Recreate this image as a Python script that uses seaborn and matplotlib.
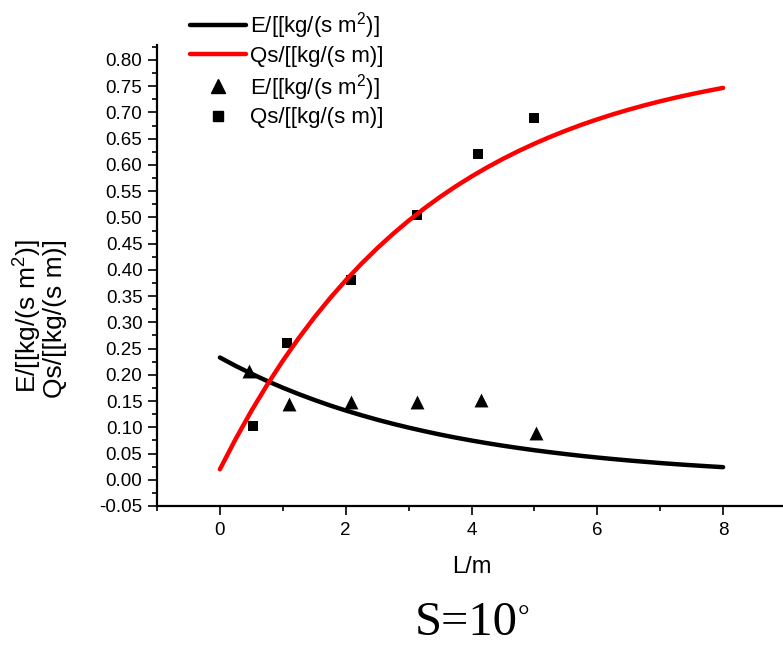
import numpy as np
import pandas as pd
import matplotlib
matplotlib.use("Agg")
import matplotlib.pyplot as plt
from matplotlib.ticker import MultipleLocator, FuncFormatter
from matplotlib.lines import Line2D
import seaborn as sns

# ---- data ----
E_x = [0.47, 1.10, 2.08, 3.14, 4.15, 5.03]
E_y = [0.208, 0.145, 0.149, 0.148, 0.152, 0.090]
Qs_x = [0.53, 1.07, 2.08, 3.13, 4.10, 4.99]
Qs_y = [0.103, 0.260, 0.380, 0.505, 0.620, 0.690]

# fitted curves, every 0.25 m
fit_x = [0.0, 0.25, 0.5, 0.75, 1.0, 1.25, 1.5, 1.75, 2.0, 2.25, 2.5, 2.75,
         3.0, 3.25, 3.5, 3.75, 4.0, 4.25, 4.5, 4.75, 5.0, 5.25, 5.5, 5.75,
         6.0, 6.25, 6.5, 6.75, 7.0, 7.25, 7.5, 7.75, 8.0]
E_fit = [0.2330, 0.2170, 0.2022, 0.1883, 0.1754, 0.1634, 0.1522, 0.1417, 0.1320,
         0.1230, 0.1145, 0.1067, 0.0994, 0.0926, 0.0862, 0.0803, 0.0748, 0.0697,
         0.0649, 0.0605, 0.0563, 0.0525, 0.0489, 0.0455, 0.0424, 0.0395, 0.0368,
         0.0343, 0.0319, 0.0297, 0.0277, 0.0258, 0.0240]
Qs_fit = [0.0200, 0.0776, 0.1311, 0.1807, 0.2267, 0.2694, 0.3091, 0.3459, 0.3800,
          0.4117, 0.4411, 0.4684, 0.4937, 0.5172, 0.5390, 0.5592, 0.5780, 0.5954,
          0.6116, 0.6266, 0.6405, 0.6534, 0.6654, 0.6766, 0.6869, 0.6965, 0.7054,
          0.7136, 0.7213, 0.7284, 0.7350, 0.7411, 0.7468]

label_E = r"E/[[kg/(s m$^{2}$)]"
label_Q = "Qs/[[kg/(s m)]"

sns.set_style("ticks")
plt.rcParams["font.family"] = ["Liberation Sans", "DejaVu Sans"]
plt.rcParams["mathtext.fontset"] = "custom"
plt.rcParams["mathtext.rm"] = "Liberation Sans"
plt.rcParams["mathtext.it"] = "Liberation Sans:italic"
plt.rcParams["mathtext.bf"] = "Liberation Sans:bold"
for k in ["text.color", "axes.labelcolor", "xtick.color", "ytick.color", "axes.edgecolor"]:
    plt.rcParams[k] = "black"

fig = plt.figure(figsize=(7.83, 6.46), dpi=100)
ax = fig.add_axes([157/783, 1 - 506/646, 629/783, 460.7/646])

fit_df = pd.DataFrame({"x": fit_x, "E": E_fit, "Qs": Qs_fit})
sns.lineplot(data=fit_df, x="x", y="E", ax=ax, color="black", lw=3.2, legend=False)
sns.lineplot(data=fit_df, x="x", y="Qs", ax=ax, color="#ff0000", lw=3.2, legend=False)
sns.scatterplot(x=E_x, y=E_y, ax=ax, marker="^", s=100, color="black", edgecolor="black", linewidth=0, legend=False)
sns.scatterplot(x=Qs_x, y=Qs_y, ax=ax, marker="s", s=55, color="black", edgecolor="black", linewidth=0, legend=False)

ax.set_xlim(-1, 9)
ax.set_ylim(-0.05, 0.828)
ax.xaxis.set_major_locator(MultipleLocator(2))
ax.xaxis.set_minor_locator(MultipleLocator(1))
ax.yaxis.set_major_locator(MultipleLocator(0.05))
ax.yaxis.set_minor_locator(MultipleLocator(0.025))
ax.yaxis.set_major_formatter(FuncFormatter(lambda v, p: f"{v:.2f}"))
ax.set_xticks([0, 2, 4, 6, 8])

for s in ["top", "right"]:
    ax.spines[s].set_visible(False)
for s in ["left", "bottom"]:
    ax.spines[s].set_linewidth(1.6)
ax.tick_params(which="major", length=6.5, width=1.2, labelsize=13.5, pad=4, direction="out")
ax.tick_params(which="minor", length=3.5, width=1.2, direction="out")
ax.tick_params(axis="x", which="major", pad=5)

ax.set_xlabel("L/m", fontsize=17, labelpad=12)
ax.set_ylabel(label_E + "\n" + label_Q, fontsize=19, multialignment="right", linespacing=0.95)
ax.yaxis.set_label_coords(-0.143, 0.406)

handles = [
    Line2D([], [], color="black", lw=3.2),
    Line2D([], [], color="#ff0000", lw=3.2),
    Line2D([], [], color="black", marker="^", ls="none", markersize=10),
    Line2D([], [], color="black", marker="s", ls="none", markersize=7.5),
]
fig.legend(handles, [label_E, label_Q, label_E, label_Q], loc="upper left",
           bbox_to_anchor=(190/783, 1 - 10/646), frameon=False, fontsize=16,
           handlelength=2.5, handletextpad=0.2, labelspacing=0.22,
           borderpad=0, borderaxespad=0)

fig.text(466/783, 1/646, "S=10", ha="center", va="bottom",
         fontsize=35, family=["Liberation Serif"])
fig.text(518/783, 1 - 606/646, "°", ha="left", va="top",
         fontsize=21, family=["Liberation Serif"])

fig.savefig("out.png", dpi=100)
